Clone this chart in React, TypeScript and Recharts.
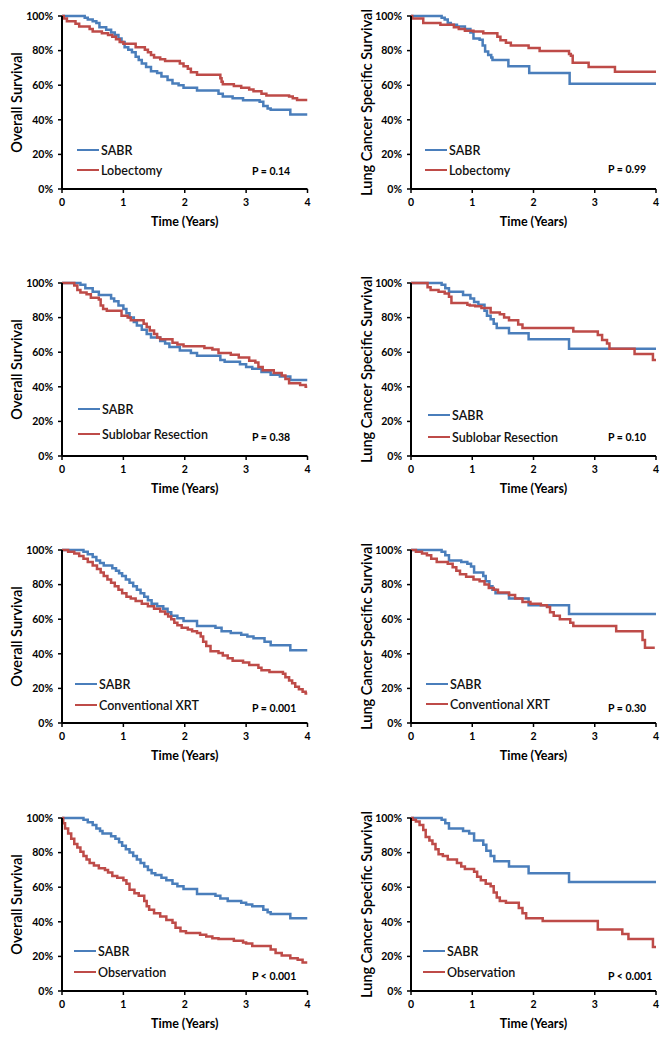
import React from 'react';
import { LineChart, Line, XAxis, YAxis } from 'recharts';

type Pt = [number, number];

const X_TICKS = [0, 1, 2, 3, 4];
const Y_TICKS = [0, 20, 40, 60, 80, 100];

// SABR vs lobectomy
const OS_LOB_SABR: Pt[] = [[0,100],[0.37,99],[0.42,98],[0.5,97],[0.56,96],[0.61,93.5],[0.72,92],[0.8,90.5],[0.86,89],[0.92,87],[0.97,85],[1.02,82],[1.08,80.5],[1.14,79],[1.2,76.5],[1.25,74.5],[1.3,72.5],[1.37,70.5],[1.45,68],[1.55,67],[1.62,65],[1.72,63],[1.8,61],[1.9,60],[1.98,58.5],[2.2,57],[2.55,55],[2.62,53.5],[2.78,52.5],[2.95,51.3],[3.22,50.5],[3.28,48],[3.35,46.5],[3.4,45.8],[3.72,43],[4,43]];
const OS_LOB: Pt[] = [[0,100],[0.03,98.5],[0.08,97],[0.22,95.5],[0.28,94],[0.45,92.5],[0.5,91],[0.65,90],[0.75,89],[0.82,88],[0.88,86.5],[0.94,85],[1.0,84],[1.2,82],[1.35,80.5],[1.4,79],[1.45,77.5],[1.5,76],[1.6,75],[1.68,74],[1.92,72.5],[1.98,71],[2.05,69.5],[2.1,67.5],[2.2,66],[2.58,64],[2.6,62],[2.62,60.5],[2.8,59.5],[2.92,58.5],[3.05,57.5],[3.12,56.5],[3.25,55],[3.33,54],[3.7,53.5],[3.76,52.5],[3.83,51.5],[4,51.5]];
const LCSS_LOB_SABR: Pt[] = [[0,100],[0.5,99],[0.55,98],[0.6,96],[0.65,95],[0.75,94],[0.88,92.5],[0.97,90.5],[1.02,87],[1.12,86.3],[1.17,83],[1.21,79.5],[1.26,77.5],[1.31,76],[1.33,74.5],[1.59,71],[1.93,67],[2.59,60.8],[4,60.8]];
const LCSS_LOB: Pt[] = [[0,100],[0.02,98.5],[0.2,96],[0.48,95],[0.7,93.5],[0.78,92.5],[0.88,91.5],[1.02,91],[1.18,90],[1.41,88],[1.46,86],[1.55,84.5],[1.63,83],[1.92,81.5],[2.1,79.7],[2.58,78],[2.61,77],[2.64,73],[2.9,70.5],[3.33,67.8],[4,67.8]];

// SABR vs sublobar resection
const OS_SUB_SABR: Pt[] = [[0,100],[0.3,99],[0.38,97],[0.5,95],[0.6,93],[0.8,91],[0.85,89.5],[0.92,87],[1.0,85],[1.05,82.5],[1.1,80],[1.17,77.5],[1.22,75.5],[1.3,73],[1.38,70.5],[1.45,68.5],[1.6,66.5],[1.68,65],[1.75,63],[1.92,61],[2.1,59.5],[2.2,58],[2.58,55.5],[2.65,54.5],[2.9,53],[3.0,51.5],[3.1,50.5],[3.25,48.5],[3.4,47],[3.55,46],[3.72,44],[4,44]];
const OS_SUB: Pt[] = [[0,100],[0.2,98.5],[0.25,96],[0.3,94.5],[0.4,93.5],[0.47,91.5],[0.6,90.5],[0.63,87],[0.67,85],[0.73,84],[0.97,81],[1.07,80],[1.12,78.5],[1.33,76.5],[1.38,74.5],[1.43,72.5],[1.5,70.5],[1.55,68.5],[1.6,67.5],[1.8,65.5],[1.88,64.5],[1.98,63.5],[2.32,62.5],[2.45,61.5],[2.55,59.5],[2.75,58.5],[2.88,57],[3.05,55],[3.15,54],[3.2,51.5],[3.27,49.5],[3.45,48],[3.58,46.5],[3.64,44.5],[3.7,42],[3.88,41],[3.97,40],[4,40]];
const LCSS_SUB_SABR: Pt[] = [[0,100],[0.5,99],[0.56,97],[0.62,95],[0.85,93],[0.97,91],[1.03,89],[1.1,87.5],[1.2,84],[1.24,81],[1.3,79],[1.35,76.5],[1.4,74],[1.6,71],[1.92,67.5],[2.58,62],[4,62]];
const LCSS_SUB: Pt[] = [[0,100],[0.27,97.5],[0.32,96],[0.45,95],[0.55,94],[0.62,92],[0.66,88.5],[0.92,87.5],[0.96,87],[1.05,86.5],[1.15,85.5],[1.3,83],[1.45,82],[1.52,80],[1.6,78.5],[1.75,76],[1.82,74],[2.65,72],[3.05,70],[3.12,67],[3.2,65],[3.24,62],[3.65,59],[3.95,55.5],[4,55.5]];

// SABR vs conventional XRT
const OS_XRT_SABR: Pt[] = [[0,100],[0.35,99],[0.42,97.5],[0.5,96],[0.56,94],[0.62,92.5],[0.68,91],[0.82,89.5],[0.88,88],[0.93,86.5],[0.98,85],[1.04,83],[1.1,81],[1.16,79],[1.22,77],[1.28,75],[1.34,73],[1.4,71],[1.46,69],[1.55,67.5],[1.65,66],[1.72,64],[1.78,62],[1.88,60.5],[1.98,59],[2.2,56],[2.5,55],[2.6,53],[2.75,52],[2.92,51],[3.02,50],[3.12,49],[3.3,47],[3.4,45],[3.72,42],[4,42]];
const OS_XRT: Pt[] = [[0,100],[0.1,99],[0.2,98],[0.28,96.5],[0.35,95],[0.42,93],[0.5,91],[0.57,89],[0.63,87],[0.68,85],[0.74,83],[0.8,81],[0.86,79],[0.92,77],[0.98,75],[1.05,73],[1.12,72],[1.2,70.5],[1.3,69],[1.4,67.5],[1.5,66],[1.6,64.5],[1.68,63],[1.73,61.5],[1.78,60],[1.83,58],[1.88,56.5],[1.95,55],[2.05,54],[2.12,53],[2.2,52],[2.26,50],[2.3,47],[2.35,44.5],[2.42,41.5],[2.55,40.5],[2.62,39],[2.7,37.5],[2.78,36],[2.95,35],[3.05,33.5],[3.2,32],[3.25,30.5],[3.38,29.5],[3.6,28.5],[3.64,26.5],[3.7,24.5],[3.75,23],[3.8,21],[3.86,19.5],[3.92,18],[3.97,17],[4,17]];
const LCSS_XRT_SABR: Pt[] = [[0,100],[0.5,99],[0.56,97],[0.62,94],[0.82,93],[0.92,92],[0.98,90.5],[1.03,87],[1.18,85],[1.22,82],[1.28,79],[1.33,77],[1.38,75],[1.6,72],[1.92,68],[2.58,63],[4,63]];
const LCSS_XRT: Pt[] = [[0,100],[0.08,99],[0.18,98],[0.26,97],[0.33,95],[0.42,93],[0.6,92],[0.68,90],[0.74,88],[0.8,86],[0.9,84.5],[1.02,83],[1.12,82],[1.2,80],[1.27,78],[1.35,77],[1.42,75.5],[1.6,74],[1.7,72],[1.82,70],[1.95,69],[2.12,68],[2.22,67],[2.27,64],[2.33,62],[2.43,60],[2.6,58],[2.65,56],[3.35,53],[3.78,48],[3.82,43.5],[3.98,43.5]];

// SABR vs observation
const OS_OBS_SABR: Pt[] = [[0,100],[0.35,99],[0.42,97.5],[0.5,96],[0.56,94],[0.62,92.5],[0.66,91],[0.8,89.5],[0.87,88],[0.93,86],[0.98,84],[1.04,82],[1.1,80],[1.16,78],[1.22,76],[1.28,74],[1.34,72],[1.4,70],[1.46,68],[1.52,67],[1.62,65.5],[1.7,64],[1.8,62],[1.88,60.5],[1.98,59],[2.2,56],[2.5,55],[2.58,53.5],[2.7,52],[2.92,51],[3.0,50],[3.1,49],[3.28,47],[3.35,45.5],[3.4,44.5],[3.72,42],[4,42]];
const OS_OBS: Pt[] = [[0,100],[0.02,97],[0.05,94],[0.1,91],[0.15,88],[0.2,85],[0.25,83],[0.3,80.5],[0.35,78],[0.4,76],[0.45,74],[0.52,72.5],[0.6,71],[0.7,70],[0.75,68.5],[0.82,66.5],[0.9,65.5],[1.0,64],[1.05,62],[1.1,58.5],[1.18,56.5],[1.25,55],[1.34,52],[1.38,49],[1.42,47],[1.5,45],[1.6,43],[1.7,41],[1.8,39.5],[1.85,36.5],[1.93,34.5],[2.02,33.5],[2.25,32.5],[2.35,31.5],[2.45,30.5],[2.55,30],[2.8,29],[2.95,28],[3.0,27.5],[3.1,26],[3.4,24],[3.48,22],[3.58,20.5],[3.72,19],[3.84,18],[3.92,16.5],[4,16.5]];
const LCSS_OBS_SABR: Pt[] = [[0,100],[0.5,99],[0.56,97],[0.62,94],[0.85,92.5],[0.95,91],[1.03,87],[1.18,84.5],[1.23,81],[1.3,78],[1.36,75],[1.6,72],[1.92,68],[2.58,63],[4,63]];
const LCSS_OBS: Pt[] = [[0,100],[0.03,99],[0.08,98],[0.14,96],[0.2,93],[0.24,89],[0.3,87],[0.35,85],[0.4,82],[0.45,79],[0.52,78],[0.6,76],[0.75,74],[0.82,72],[0.88,70.5],[1.03,69],[1.08,66],[1.14,64],[1.22,62],[1.3,60.5],[1.35,57],[1.4,54],[1.45,52],[1.55,51],[1.76,48],[1.82,45],[1.88,42],[2.15,40.5],[3.05,35.5],[3.45,33],[3.55,30],[3.95,25.5],[4,25.5]];

const BLUE = '#4A7EBB';
const RED = '#BE4B48';
const FONT = 'Lato, "Open Sans", sans-serif';

const toRows = (pts: Pt[]) => pts.map(([t, s]) => ({ t, s }));

interface PanelProps {
  top: number;
  right: boolean;
  sabr: Pt[];
  other: Pt[];
  otherName: string;
  p: string;
  legY: number;
  legGap: number;
  legX: number;
  pY: number;
}

const Panel: React.FC<PanelProps> = ({ top, right, sabr, other, otherName, p, legY, legGap, legX, pY }) => {
  const width = right ? 331 : 330;
  const axisW = right ? 71 : 62;
  const rightM = right ? 15 : 22.5;
  const yLabel = right ? 'Lung Cancer Specific Survival' : 'Overall Survival';
  const labelX = right ? 27 : 17;

  const legendRow = (color: string, text: string, y: number) => (
    <div style={{ position: 'absolute', left: legX, top: y - 8, height: 16, display: 'flex', alignItems: 'center' }}>
      <div style={{ width: 22, height: 2.5, background: color }} />
      <span style={{ marginLeft: 2, fontSize: 12.5, fontWeight: 600, fontFamily: FONT, color: '#111' }}>{text}</span>
    </div>
  );

  return (
    <div style={{ position: 'absolute', left: right ? 340 : 0, top, width, height: 229 }}>
      <LineChart width={width} height={229} margin={{ top: 16, right: rightM, left: 0, bottom: 0 }}>
        <XAxis
          dataKey="t"
          type="number"
          domain={[0, 4]}
          ticks={X_TICKS}
          allowDataOverflow
          height={40}
          axisLine={{ stroke: '#000', strokeWidth: 2 }}
          tickLine={{ stroke: '#000', strokeWidth: 1.5 }}
          tickSize={4}
          tickMargin={6}
          tick={{ fill: '#000', fontSize: 10.5, fontWeight: 700, fontFamily: FONT }}
          label={{ value: 'Time (Years)', position: 'insideBottom', offset: 3, style: { fill: '#000', fontSize: 12.5, fontWeight: 700, fontFamily: FONT } }}
        />
        <YAxis
          type="number"
          domain={[0, 100]}
          ticks={Y_TICKS}
          width={axisW}
          axisLine={{ stroke: '#000', strokeWidth: 2 }}
          tickLine={{ stroke: '#000', strokeWidth: 1.5 }}
          tickSize={4}
          tickMargin={5}
          tickFormatter={(v: number) => `${v}%`}
          tick={{ fill: '#000', fontSize: 10.5, fontWeight: 700, fontFamily: FONT }}
          label={{ value: yLabel, angle: -90, position: 'insideLeft', offset: labelX, style: { textAnchor: 'middle', fill: '#000', fontSize: 14.5, fontWeight: 600, fontFamily: FONT } }}
        />
        <Line data={toRows(sabr)} dataKey="s" type="stepAfter" stroke={BLUE} strokeWidth={2.5} dot={false} isAnimationActive={false} />
        <Line data={toRows(other)} dataKey="s" type="stepAfter" stroke={RED} strokeWidth={2.5} dot={false} isAnimationActive={false} />
      </LineChart>
      {legendRow(BLUE, 'SABR', legY)}
      {legendRow(RED, otherName, legY + legGap)}
      <div style={{ position: 'absolute', left: right ? 268 : 252, top: pY - 7, fontSize: 10.5, fontWeight: 700, fontFamily: FONT, color: '#000', whiteSpace: 'nowrap' }}>{p}</div>
    </div>
  );
};

export default function App() {
  return (
    <div style={{ position: 'absolute', left: 0, top: 0, width: 671, height: 1040, background: '#fff' }}>
      <Panel top={0} right={false} sabr={OS_LOB_SABR} other={OS_LOB} otherName="Lobectomy" p="P = 0.14" legX={77} legY={150} legGap={20} pY={172} />
      <Panel top={0} right sabr={LCSS_LOB_SABR} other={LCSS_LOB} otherName="Lobectomy" p="P = 0.99" legX={85} legY={150} legGap={20} pY={170} />
      <Panel top={267} right={false} sabr={OS_SUB_SABR} other={OS_SUB} otherName="Sublobar Resection" p="P = 0.38" legX={78} legY={142} legGap={25} pY={171} />
      <Panel top={267} right sabr={LCSS_SUB_SABR} other={LCSS_SUB} otherName="Sublobar Resection" p="P = 0.10" legX={88} legY={148} legGap={22} pY={171} />
      <Panel top={534} right={false} sabr={OS_XRT_SABR} other={OS_XRT} otherName="Conventional XRT" p="P = 0.001" legX={75} legY={150} legGap={21} pY={175} />
      <Panel top={534} right sabr={LCSS_XRT_SABR} other={LCSS_XRT} otherName="Conventional XRT" p="P = 0.30" legX={86} legY={150} legGap={20} pY={175} />
      <Panel top={802} right={false} sabr={OS_OBS_SABR} other={OS_OBS} otherName="Observation" p="P < 0.001" legX={74} legY={149} legGap={21} pY={175} />
      <Panel top={802} right sabr={LCSS_OBS_SABR} other={LCSS_OBS} otherName="Observation" p="P < 0.001" legX={83} legY={149} legGap={21} pY={175} />
    </div>
  );
}
